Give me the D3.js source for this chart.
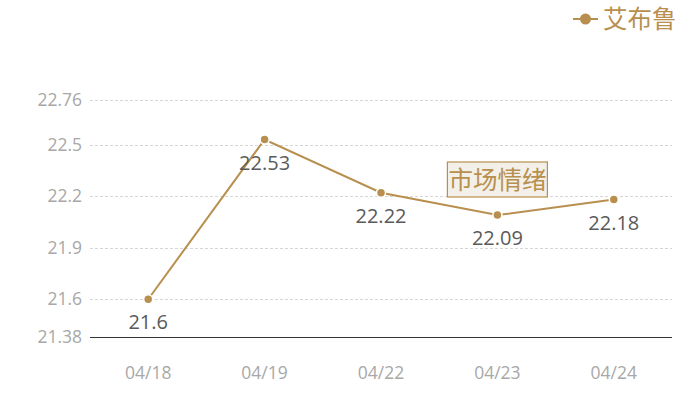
<!DOCTYPE html>
<html>
<head>
<meta charset="utf-8">
<script src="https://cdn.jsdelivr.net/npm/d3@7"></script>
<style>
  body { margin: 0; background: #fff; }
  svg text { font-family: "Open Sans", "Noto Sans CJK SC", sans-serif; }
</style>
</head>
<body>
<div id="chart"></div>
<script>
const dates = ["04/18", "04/19", "04/22", "04/23", "04/24"];
const values = [21.6, 22.53, 22.22, 22.09, 22.18];
const yTicks = [21.38, 21.6, 21.9, 22.2, 22.5, 22.76];
const seriesName = "艾布鲁";
const noteText = "市场情绪";
const noteDate = "04/23";
const noteValue = 22.3;

const width = 700, height = 400;
const margin = { top: 100, right: 28, bottom: 63, left: 90 };
const gold = "#b88f4e";

const svg = d3.select("#chart").append("svg")
  .attr("width", width).attr("height", height);

const x = d3.scaleBand().domain(dates)
  .range([margin.left, width - margin.right]);
const y = d3.scaleLinear().domain([21.38, 22.76])
  .range([height - margin.bottom, margin.top]);

// grid lines
svg.append("g").selectAll("line")
  .data(yTicks.slice(1))
  .join("line")
  .attr("x1", margin.left).attr("x2", width - margin.right)
  .attr("y1", d => Math.round(y(d)) + 0.5).attr("y2", d => Math.round(y(d)) + 0.5)
  .attr("stroke", "#d6d6d6").attr("stroke-dasharray", "3,2");

// y labels
svg.append("g").selectAll("text")
  .data(yTicks)
  .join("text")
  .attr("x", margin.left - 8)
  .attr("y", d => y(d))
  .attr("dy", "0.35em")
  .attr("text-anchor", "end")
  .attr("font-size", 17.5)
  .attr("fill", "#a8a8a8")
  .text(d => d);

// x axis line
svg.append("line")
  .attr("x1", margin.left).attr("x2", width - margin.right)
  .attr("y1", Math.round(y(21.38)) + 0.5).attr("y2", Math.round(y(21.38)) + 0.5)
  .attr("stroke", "#333");

svg.append("g").selectAll("text")
  .data(dates)
  .join("text")
  .attr("x", d => x(d) + x.bandwidth() / 2)
  .attr("y", y(21.38) + 42)
  .attr("text-anchor", "middle")
  .attr("font-size", 17.5)
  .attr("fill", "#a8a8a8")
  .text(d => d);

const pts = dates.map((d, i) => ({ date: d, value: values[i] }));
const line = d3.line()
  .x(d => x(d.date) + x.bandwidth() / 2)
  .y(d => y(d.value));

svg.append("path").datum(pts)
  .attr("fill", "none").attr("stroke", gold).attr("stroke-width", 2)
  .attr("d", line);

svg.append("g").selectAll("circle")
  .data(pts)
  .join("circle")
  .attr("cx", d => x(d.date) + x.bandwidth() / 2)
  .attr("cy", d => y(d.value))
  .attr("r", 4.5)
  .attr("fill", gold).attr("stroke", "#fff").attr("stroke-width", 1.5);

svg.append("g").selectAll("text")
  .data(pts)
  .join("text")
  .attr("x", d => x(d.date) + x.bandwidth() / 2)
  .attr("y", d => y(d.value) + 30)
  .attr("text-anchor", "middle")
  .attr("font-size", 20)
  .attr("fill", "#5a5a5a")
  .text(d => d.value);

// annotation box
const nx = x(noteDate) + x.bandwidth() / 2;
const ny = y(noteValue);
const note = svg.append("g");
note.append("rect")
  .attr("x", nx - 50).attr("y", ny - 17)
  .attr("width", 100).attr("height", 35)
  .attr("fill", "#f3efe9").attr("stroke", gold).attr("stroke-width", 1.2);
note.append("text")
  .attr("x", nx).attr("y", ny + 9.5)
  .attr("text-anchor", "middle")
  .attr("font-size", 24.5)
  .attr("fill", gold)
  .text(noteText);

// legend
const lg = svg.append("g").attr("transform", "translate(573,19)");
lg.append("line").attr("x1", 0).attr("x2", 25).attr("stroke", gold).attr("stroke-width", 2);
lg.append("circle").attr("cx", 12.5).attr("r", 5.5).attr("fill", gold);
lg.append("text")
  .attr("x", 30).attr("dy", "0.35em")
  .attr("font-size", 24.5)
  .attr("fill", gold)
  .text(seriesName);
</script>
</body>
</html>
